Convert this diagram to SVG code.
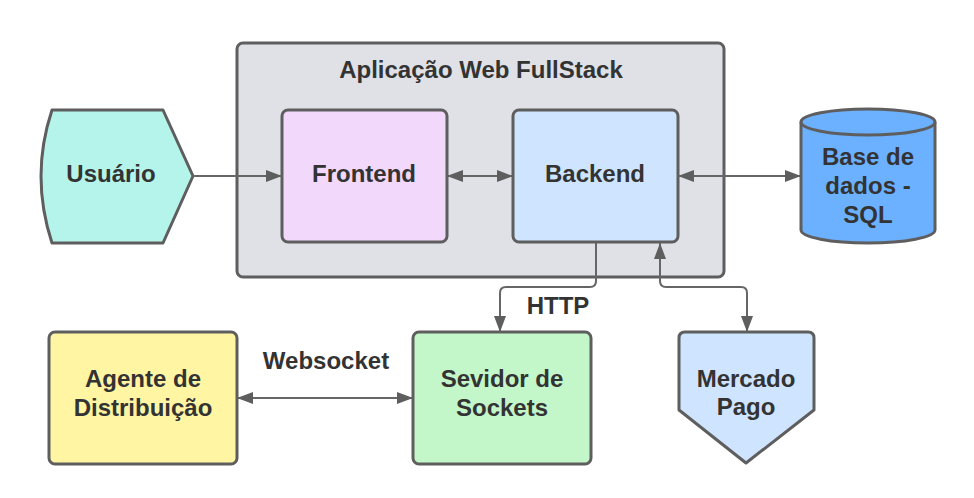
<svg xmlns="http://www.w3.org/2000/svg" width="974" height="498" viewBox="0 0 974 498">
<defs>
<marker id="ah" viewBox="0 0 16 12" refX="16" refY="6" markerWidth="16" markerHeight="12" markerUnits="userSpaceOnUse" orient="auto-start-reverse">
<path d="M0,0 L16,6 L0,12 z" fill="#5e5e5e"/>
</marker>
</defs>
<style>
.shape{stroke:#5e5e5e;stroke-width:3;stroke-linejoin:round}
.lbl{font-family:"Liberation Sans",Arial,sans-serif;font-weight:bold;font-size:24px;fill:#333333;text-anchor:middle}
.conn{fill:none;stroke:#666666;stroke-width:2}
</style>
<rect width="974" height="498" fill="#ffffff"/>
<g id="container">
<rect class="shape" x="237" y="43" width="487" height="234" rx="6" fill="#dfe1e6"/>
<text class="lbl" x="481" y="78">Aplicação Web FullStack</text>
</g>
<g id="usuario">
<path class="shape" d="M52,110 L163,110 L193,176 L163,243 L52,243 Q30,176 52,110 Z" fill="#b5f4ea"/>
<text class="lbl" x="111" y="182">Usuário</text>
</g>
<g id="frontend">
<rect class="shape" x="282" y="110" width="165" height="132" rx="6" fill="#f2d8fb"/>
<text class="lbl" x="364" y="182">Frontend</text>
</g>
<g id="backend">
<rect class="shape" x="513" y="110" width="165" height="132" rx="6" fill="#cfe4ff"/>
<text class="lbl" x="595" y="182">Backend</text>
</g>
<g id="db">
<path class="shape" d="M801,122 L801,230 A67,13 0 0 0 935,230 L935,122 A67,13 0 0 0 801,122 Z" fill="#6cb1ff"/>
<path class="shape" d="M801,122 A67,13 0 0 0 935,122" fill="none"/>
<text class="lbl" x="868" y="165">Base de</text>
<text class="lbl" x="868" y="194">dados -</text>
<text class="lbl" x="868" y="223">SQL</text>
</g>
<g id="agente">
<rect class="shape" x="49" y="332" width="188" height="132" rx="6" fill="#fff5a3"/>
<text class="lbl" x="143" y="387">Agente de</text>
<text class="lbl" x="143" y="416">Distribuição</text>
</g>
<g id="sockets">
<rect class="shape" x="413" y="332" width="178" height="132" rx="6" fill="#c3f7c9"/>
<text class="lbl" x="502" y="387">Sevidor de</text>
<text class="lbl" x="502" y="416">Sockets</text>
</g>
<g id="mercado">
<path class="shape" d="M685,332 L808,332 Q814,332 814,338 L814,410 L746,463 L679,410 L679,338 Q679,332 685,332 Z" fill="#cfe4ff"/>
<text class="lbl" x="746" y="387">Mercado</text>
<text class="lbl" x="746" y="415">Pago</text>
</g>
<g id="connectors">
<path class="conn" d="M193,176 L282,176" marker-end="url(#ah)"/>
<path class="conn" d="M447,176 L513,176" marker-start="url(#ah)" marker-end="url(#ah)"/>
<path class="conn" d="M678,176 L801,176" marker-start="url(#ah)" marker-end="url(#ah)"/>
<path class="conn" d="M596,243 L596,281 Q596,287 590,287 L506,287 Q500,287 500,293 L500,332" marker-end="url(#ah)"/>
<path class="conn" d="M660,243 L660,281 Q660,287 666,287 L741,287 Q747,287 747,293 L747,332" marker-start="url(#ah)" marker-end="url(#ah)"/>
<path class="conn" d="M237,398 L413,398" marker-start="url(#ah)" marker-end="url(#ah)"/>
<text class="lbl" x="558" y="314">HTTP</text>
<text class="lbl" x="326" y="369">Websocket</text>
</g>
</svg>
